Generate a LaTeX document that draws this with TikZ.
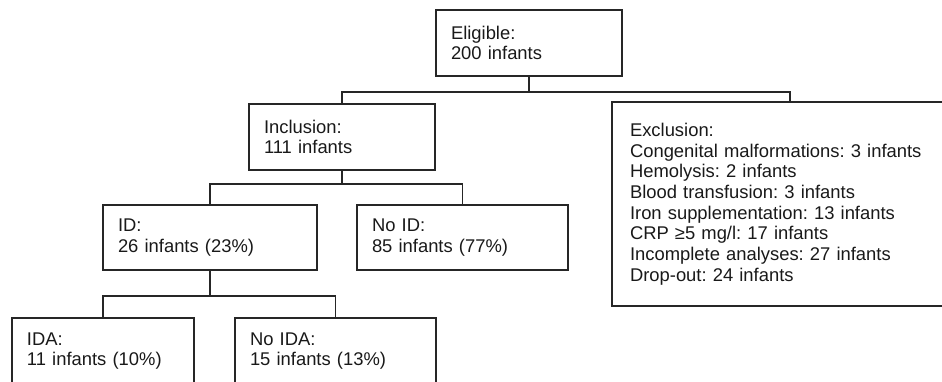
\documentclass[tikz,border=0pt]{standalone}
\usepackage{fontspec}
\setmainfont{Liberation Sans}
\usepackage{tikz}
\frenchspacing

\tikzset{
  flowbox/.style={draw=black!85, line width=1.3pt, inner xsep=15pt, inner ysep=0pt,
    align=left, text=black!90, font=\fontsize{18.4}{20.7}\selectfont},
  link/.style={draw=black!85, line width=1.3pt}
}

\begin{document}
\begin{tikzpicture}[x=1pt, y=-1pt]
    % Fix the page size and cut the boxes that run past it
    \useasboundingbox (0, 0) rectangle (942, 381);
    \clip (0, 0) rectangle (942, 381);

    % Set the box sizes
    \pgfmathsetlengthmacro{\boxheight}{66pt}
    \pgfmathsetlengthmacro{\smallwidth}{186pt}

    % Draw the boxes
    \node[flowbox, minimum width=\smallwidth, minimum height=\boxheight, text width=156pt] (eligible) at (529, 43) {Eligible:\\200 infants};
    \node[flowbox, minimum width=\smallwidth, minimum height=\boxheight, text width=156pt] (inclusion) at (342, 137) {Inclusion:\\111 infants};
    \node[flowbox, minimum width=356pt, minimum height=204pt, inner xsep=18pt, text width=320pt] (exclusion) at (790, 204) {Exclusion:\\Congenital malformations: 3 infants\\Hemolysis: 2 infants\\Blood transfusion: 3 infants\\Iron supplementation: 13 infants\\CRP ≥5 mg/l: 17 infants\\Incomplete analyses: 27 infants\\Drop-out: 24 infants\\[10pt]};
    \node[flowbox, minimum width=214pt, minimum height=65pt, text width=184pt] (id) at (210, 237.5) {ID:\\26 infants (23\%)};
    \node[flowbox, minimum width=211pt, minimum height=65pt, text width=181pt] (noid) at (462.5, 237.5) {No ID:\\85 infants (77\%)};
    \node[flowbox, minimum width=182pt, minimum height=\boxheight, text width=152pt] (ida) at (103, 351) {IDA:\\11 infants (10\%)};
    \node[flowbox, minimum width=201pt, minimum height=\boxheight, text width=171pt] (noida) at (335.5, 351) {No IDA:\\15 infants (13\%)};

    % Heights of the branching lines
    \coordinate (barA) at (0, 92);
    \coordinate (barB) at (0, 184);
    \coordinate (barC) at (0, 296);

    % Draw the connectors
    \draw[link] (eligible.south) -- (eligible.south |- barA) -| (inclusion.north);
    \draw[link] (eligible.south |- barA) -| (exclusion.north);
    \draw[link] (inclusion.south) -- (inclusion.south |- barB) -| (id.north);
    \draw[link] (inclusion.south |- barB) -| (noid.north);
    \draw[link] (id.south) -- (id.south |- barC) -| (ida.north);
    \draw[link] (id.south |- barC) -| (noida.north);
\end{tikzpicture}
\end{document}
